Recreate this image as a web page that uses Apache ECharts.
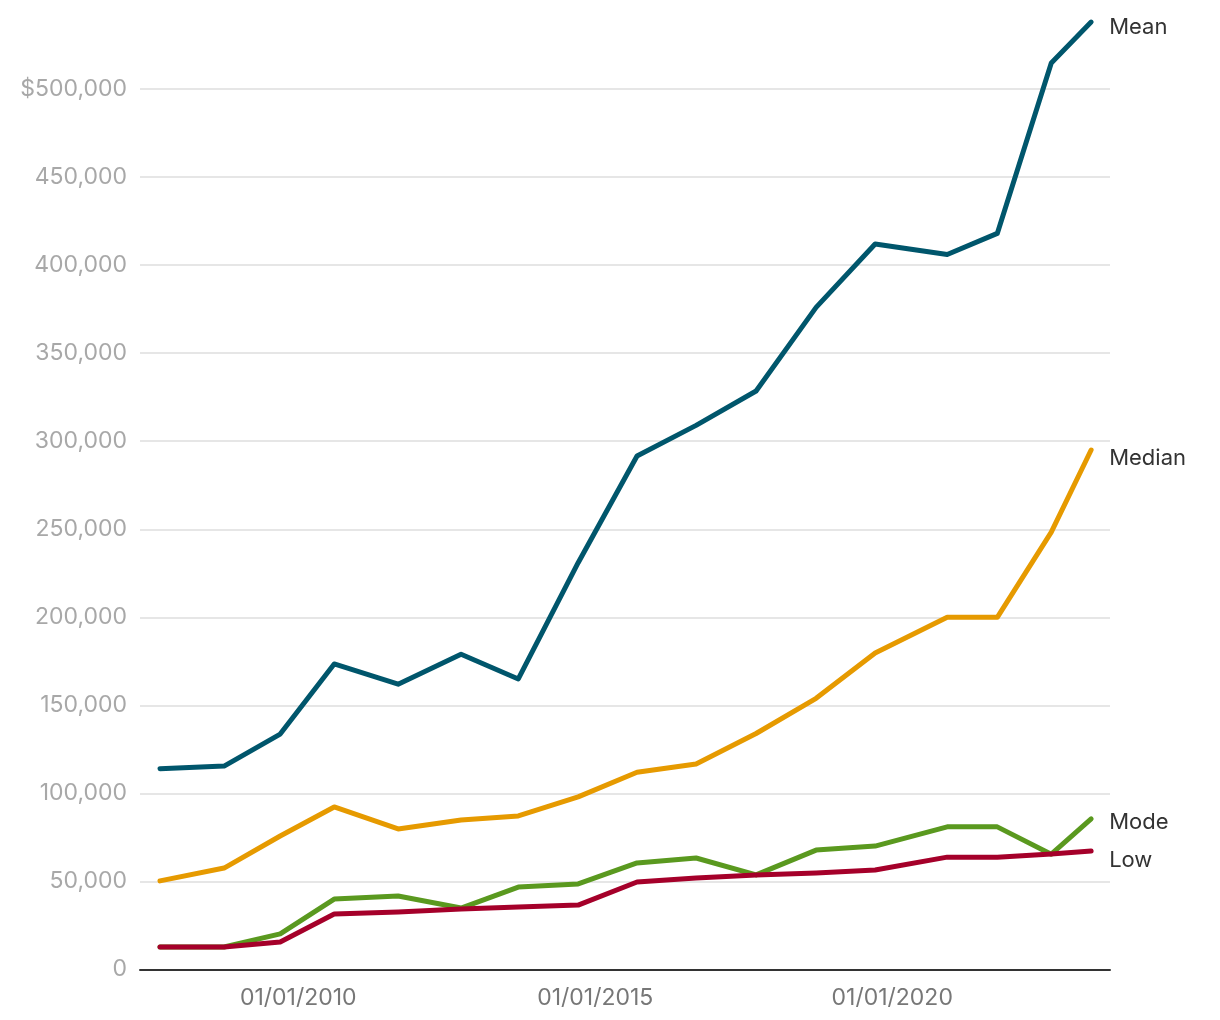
<!DOCTYPE html>
<html>
<head>
<meta charset="utf-8">
<script src="https://cdn.jsdelivr.net/npm/echarts@6/dist/echarts.min.js"></script>
<style>html,body{margin:0;padding:0;background:#fff;}#c{width:1220px;height:1020px;}</style>
</head>
<body>
<div id="c"></div>
<script>
var dates = ['2007-09-04','2008-10-02','2009-09-12','2010-08-10','2011-09-07','2012-09-28','2013-09-15','2014-09-18','2015-09-15','2016-09-12','2017-09-16','2018-09-20','2019-09-18','2020-12-04','2021-10-08','2022-09-05','2023-05-08'];
var meanValues   = [114000,115500,133700,173500,162000,179000,165000,231000,291600,309000,328500,376000,412000,406000,418000,514800,538000];
var medianValues = [50300,57600,75800,92300,79800,84900,87200,98000,112000,116700,134000,154000,179700,200000,200000,248400,295000];
var modeValues   = [12800,12800,20200,40000,41700,34900,46800,48600,60500,63300,53700,67800,70100,81000,81000,65500,85500];
var lowValues    = [12800,12800,15600,31500,32600,34300,35500,36600,49700,52000,53700,54800,56500,63800,63800,65600,67300];
var xTickDates = ['2010-01-01','2015-01-01','2020-01-01'];
var seriesNames = ['Mean','Median','Mode','Low'];
var colors = ['#00566c','#e69a00','#5a991f','#a5002a'];
var labelOffsets = [[0,5],[0,8],[0,3],[0,9]];

function pad(n){ return (n<10?'0':'')+n; }
function fmtNum(v){ return String(v).replace(/\B(?=(\d{3})+(?!\d))/g, ','); }
function parseLocal(s){ var p=s.split('-'); return new Date(+p[0], +p[1]-1, +p[2]).getTime(); }
function toPairs(vals){ return dates.map(function(d,i){ return [parseLocal(d), vals[i]]; }); }

var allValues = [meanValues, medianValues, modeValues, lowValues];
var FONT = 'Inter, "Liberation Sans", sans-serif';

var chart = echarts.init(document.getElementById('c'), null, {renderer:'canvas'});
chart.setOption({
  animation: false,
  grid: {left: 140, right: 110, top: 89, bottom: 50.5, containLabel: false},
  xAxis: {
    type: 'value',
    min: parseLocal('2007-05-04'),
    max: parseLocal('2023-09-01'),
    axisLine: {show: true, lineStyle: {color: '#333', width: 2}},
    axisTick: {show: false},
    splitLine: {show: false},
    axisLabel: {
      customValues: xTickDates.map(parseLocal),
      color: '#777', fontSize: 23, fontFamily: FONT, margin: 17,
      formatter: function(v){ var d=new Date(v); return pad(d.getMonth()+1)+'/'+pad(d.getDate())+'/'+d.getFullYear(); }
    }
  },
  yAxis: {
    type: 'value', min: 0, max: 500000, interval: 50000,
    axisLine: {show: false}, axisTick: {show: false},
    splitLine: {show: true, lineStyle: {color: '#e6e6e6', width: 2}},
    axisLabel: {
      color: '#a8a8a8', fontSize: 23, fontFamily: FONT, margin: 13,
      formatter: function(v){ return v === 500000 ? '$' + fmtNum(v) : fmtNum(v); }
    }
  },
  series: seriesNames.map(function(name, i){
    return {
      name: name, type: 'line', data: toPairs(allValues[i]),
      symbol: 'none', silent: true, clip: false,
      lineStyle: {color: colors[i], width: 5, cap: 'round', join: 'round'},
      itemStyle: {color: colors[i]},
      endLabel: {show: true, formatter: name, color: '#333', fontSize: 22, fontFamily: FONT, distance: 18, offset: labelOffsets[i]}
    };
  })
});
</script>
</body>
</html>
